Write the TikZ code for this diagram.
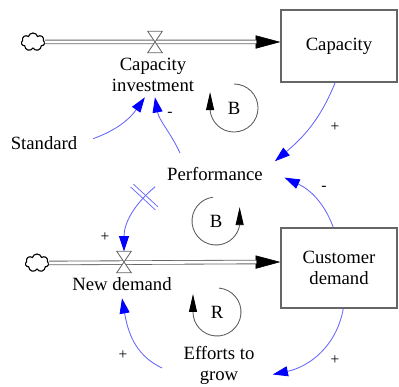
\documentclass[tikz,border=0pt]{standalone}
\usepackage{fontspec}
\setmainfont{Liberation Serif}
\usetikzlibrary{arrows.meta,shapes.geometric,shapes.symbols,decorations.markings}
\definecolor{linkblue}{RGB}{100,100,255}

\begin{document}
\begin{tikzpicture}[x=0.025cm, y=0.025cm,
    font=\fontsize{13.3}{15}\selectfont,
    stock/.style={draw=gray!80!black, line width=0.8pt, minimum width=2.9cm, minimum height=1.8cm, align=center},
    aux/.style={ellipse, inner sep=0pt, align=center},
    flowlabel/.style={inner sep=0pt, align=center},
    valve/.style={inner sep=0pt, minimum width=0.35cm, minimum height=0.52cm},
    valveline/.style={draw=gray!80!black, fill=white, line width=0.6pt},
    source/.style={cloud, cloud puffs=7, aspect=1.3, draw, line width=0.8pt, inner sep=0pt, minimum width=0.58cm, minimum height=0.45cm},
    pipe/.style={draw=gray!80!black, line width=0.6pt, double=white, double distance=2pt},
    pipehead/.style={draw=black, line width=0.4pt, -{Triangle[length=0.62cm, width=0.33cm]}},
    link/.style={draw=linkblue, line width=0.6pt, -{Triangle[length=0.38cm, width=0.25cm, color=blue]}},
    delay/.style={postaction={decorate}, decoration={markings, mark=at position 0.2 with {
      \draw[-, linkblue, line width=0.5pt] (-0.05cm,-0.42cm) -- (-0.05cm,0.42cm) (0.05cm,-0.42cm) -- (0.05cm,0.42cm);}}},
    loopline/.style={draw=gray!70!black, line width=0.6pt, -{Triangle[length=0.45cm, width=0.2cm, color=black]}},
    sign/.style={font=\fontsize{11}{13}\selectfont, inner sep=0pt},
  ]
  \useasboundingbox (0,0) rectangle (399,386);

  % Stocks
  \node[stock] (cap) at (339, 340) {Capacity};
  \node[stock, minimum height=2cm] (dem) at (339, 118) {Customer\\demand};

  % Sources and valves
  \node[source] (cloud1) at (33, 344) {};
  \node[source] (cloud2) at (37, 123) {};
  \node[valve] (v1) at (155, 344) {};
  \node[valve] (v2) at (124, 124) {};
  \coordinate (capin) at (cap.west |- v1);
  \coordinate (demin) at (dem.west |- v2);

  % Flow names and auxiliaries
  \node[flowlabel, minimum height=1.1cm] (capinv) at (153, 311) {Capacity\\investment};
  \node[flowlabel, minimum height=0.7cm] (newdem) at (122, 102) {New demand};
  \node[aux, minimum width=2.5cm, minimum height=1cm] (standard) at (44, 243) {Standard};
  \node[aux, minimum width=3.5cm, minimum height=1.2cm] (perf) at (215, 212) {Performance};
  \node[aux, minimum width=2.85cm, minimum height=1.35cm] (efforts) at (219, 21) {Efforts to\\grow};

  % Pipes
  \draw[pipehead] (cloud1.east) -- (capin);
  \draw[pipe] (cloud1.east) -- ([xshift=-0.6cm]capin);
  \draw[pipehead] (cloud2.east) -- (demin);
  \draw[pipe] (cloud2.east) -- ([xshift=-0.6cm]demin);
  \foreach \v in {v1, v2}
    \draw[valveline] (\v.north west) -- (\v.north east) -- (\v.south west) -- (\v.south east) -- cycle;

  % Causal links
  \draw[link] (cap.-96) to[out=-112, in=40] (perf.12);
  \draw[link] (dem.98) to[out=110, in=-25] (perf.-3);
  \draw[link] (standard.5) to[out=20, in=-125] (capinv.-110);
  \draw[link] (perf.149) to[out=115, in=-80] (capinv.-85);
  \draw[link, delay] (perf.192) to[out=-140, in=90] (v2.north);
  \draw[link] (efforts.183) to[out=155, in=-80] (newdem.south);
  \draw[link] (dem.-84) to[out=-100, in=12] (efforts.-10);

  % Polarities
  \node[sign] (s1) at (335, 259) {+};
  \node[sign] (s2) at (324, 198) {-};
  \node[sign] (s3) at (170, 272) {-};
  \node[sign] (s4) at (105, 149) {+};
  \node[sign] (s5) at (123, 31) {+};
  \node[sign] (s6) at (335, 26) {+};

  % Loops
  \node (b1) at (234, 278) {B};
  \node (b2) at (216, 165) {B};
  \node (rl) at (217, 74) {R};
  \draw[loopline] ([shift={(90:0.6cm)}]b1.center) arc[start angle=90, end angle=-175, radius=0.6cm] -- ++(0,0.45cm);
  \draw[loopline] ([shift={(97:0.6cm)}]b2.center) arc[start angle=97, end angle=350, radius=0.6cm] -- ++(0,0.45cm);
  \draw[loopline] ([shift={(85:0.6cm)}]rl.center) arc[start angle=85, end angle=-180, radius=0.6cm] -- ++(0,0.45cm);
\end{tikzpicture}
\end{document}
